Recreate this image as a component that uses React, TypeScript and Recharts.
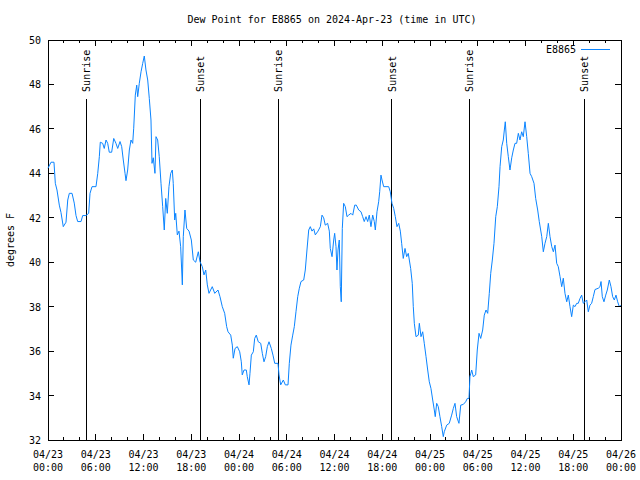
import { LineChart, Line, XAxis, YAxis, ReferenceLine, ReferenceArea } from 'recharts';

// hours since 04/23 00:00 UTC
const hours = [
  0.0, 0.38, 0.75, 0.92, 1.13, 1.42, 1.63, 1.92, 2.26, 2.48, 2.68, 3.02, 3.30, 3.52, 3.73, 4.15, 4.36, 4.77,
  5.11, 5.28, 5.53, 6.03, 6.25, 6.45, 6.57, 6.87, 7.07, 7.29, 7.50, 7.70, 8.00, 8.26, 8.54, 8.76, 9.05, 9.26,
  9.46, 9.68, 9.80, 10.01, 10.22, 10.43, 10.64, 10.77, 10.97, 11.15, 11.27, 11.47, 11.69, 11.90, 12.10, 12.31,
  12.53, 12.73, 12.94, 13.07, 13.23, 13.44, 13.57, 13.78, 13.98, 14.20, 14.41, 14.61, 14.79, 14.99, 15.20,
  15.42, 15.62, 15.74, 15.92, 16.05, 16.25, 16.46, 16.67, 16.80, 16.88, 17.00, 17.21, 17.43, 17.72, 18.01,
  18.26, 18.56, 18.89, 19.10, 19.39, 19.60, 19.82, 20.02, 20.23, 20.64, 20.95, 21.36, 21.61, 21.90, 22.20,
  22.45, 22.62, 22.96, 23.16, 23.28, 23.50, 23.79, 24.09, 24.29, 24.41, 24.63, 24.92, 25.04, 25.26, 25.38,
  25.55, 25.80, 25.97, 26.17, 26.42, 26.73, 26.93, 27.14, 27.35, 27.56, 27.77, 28.06, 28.27, 28.49, 28.90,
  29.03, 29.24, 29.57, 29.82, 30.16, 30.32, 30.53, 30.75, 30.95, 31.16, 31.38, 31.58, 31.79, 32.13, 32.33,
  32.54, 32.76, 32.96, 33.17, 33.39, 33.59, 33.93, 34.22, 34.43, 34.64, 34.84, 35.14, 35.35, 35.47, 35.69,
  35.90, 36.02, 36.19, 36.31, 36.44, 36.60, 36.73, 36.85, 36.98, 37.15, 37.36, 37.57, 37.78, 38.07, 38.29,
  38.54, 38.74, 39.04, 39.33, 39.54, 39.74, 39.96, 40.17, 40.37, 40.58, 40.80, 41.00, 41.13, 41.34, 41.55,
  41.68, 41.84, 41.97, 42.18, 42.81, 43.01, 43.22, 43.44, 43.64, 43.85, 44.07, 44.27, 44.44, 44.64, 44.86,
  45.07, 45.27, 45.57, 45.77, 45.90, 46.03, 46.24, 46.53, 46.66, 46.87, 47.08, 47.28, 47.50, 47.71, 47.91,
  48.12, 48.34, 48.54, 48.66, 48.84, 49.04, 49.25, 49.47, 49.67, 49.79, 50.10, 50.42, 50.72, 50.93, 51.14,
  51.35, 51.64, 51.86, 52.18, 52.48, 52.69, 52.90, 53.02, 53.24, 53.44, 53.74, 53.94, 54.16, 54.37, 54.62,
  54.82, 55.04, 55.25, 55.45, 55.63, 55.83, 56.04, 56.26, 56.46, 56.67, 56.80, 57.01, 57.21, 57.34, 57.46,
  57.64, 57.84, 58.05, 58.27, 58.47, 58.68, 58.89, 59.10, 59.31, 59.52, 59.72, 59.94, 60.15, 60.35, 60.57,
  60.78, 61.07, 61.28, 61.53, 61.73, 62.04, 62.24, 62.45, 62.67, 62.87, 63.08, 63.30, 63.50, 63.71, 63.92,
  64.12, 64.34, 64.55, 64.75, 64.96, 65.18, 65.38, 65.59, 65.80, 66.01, 66.22, 66.43, 66.63, 66.85, 67.06,
  67.26, 67.47, 67.69, 67.89, 68.10, 68.31, 68.52, 68.73, 69.15, 69.36, 69.49, 69.65, 69.86, 70.08, 70.28,
  70.53, 70.74, 70.95, 71.16, 71.37, 71.58, 71.79, 71.96,
];

const dewF = [
  44.23, 44.5, 44.5, 43.55, 43.25, 42.57, 42.24, 41.6, 41.8, 42.8, 43.1, 43.1, 42.66, 42.1, 41.83, 41.83, 42.1, 42.1,
  42.2, 43.1, 43.4, 43.4, 44.0, 44.75, 45.4, 45.35, 45.12, 45.5, 45.35, 44.95, 44.95, 45.57, 45.35, 45.12, 45.43, 45.2,
  44.6, 44.0, 43.67, 44.15, 45.05, 45.5, 45.35, 46.03, 47.52, 47.97, 47.45, 48.05, 48.57, 48.95, 49.28, 48.65,
  48.2, 47.37, 46.4, 44.45, 44.7, 44.0, 45.65, 45.5, 44.75, 43.55, 42.5, 41.45, 42.87, 42.2, 43.4,
  44.0, 44.15, 43.55, 41.9, 42.2, 41.23, 41.4, 40.7, 39.65, 38.98, 41.15, 42.35, 41.52, 41.4, 41.0,
  40.1, 40.0, 40.47, 40.02, 39.8, 39.43, 39.65, 38.98, 38.6, 38.9, 38.6, 38.75, 38.45, 38.0, 37.7,
  37.1, 36.87, 36.72, 36.27, 35.68, 36.12, 36.2, 35.97, 35.52, 34.93, 35.15, 35.15, 34.85, 34.48, 35.0,
  35.82, 35.97, 36.57, 36.72, 36.42, 36.35, 35.9, 35.52, 35.75, 36.2, 36.42, 36.12, 35.82, 35.45, 35.45,
  34.93, 34.48, 34.7, 34.48, 34.48, 35.45, 36.27, 36.72, 37.1, 37.77, 38.45, 38.83, 39.13, 39.2, 39.65,
  40.55, 41.45, 41.6, 41.4, 41.5, 41.23, 41.4, 41.6, 42.12, 42.0, 41.67, 41.75, 41.4, 40.62, 40.25,
  41.0, 41.3, 40.7, 39.65, 40.55, 41.0, 38.9, 38.22, 41.52, 42.65, 42.5, 42.05, 42.12, 42.2, 42.12,
  42.57, 42.57, 42.35, 42.27, 42.05, 41.83, 42.05, 41.83, 42.12, 41.6, 42.12, 41.83, 41.45, 42.27, 42.72,
  43.17, 43.92, 43.7, 43.4, 43.4, 43.17, 42.65, 42.42, 42.05, 41.6, 41.75, 41.4, 40.85, 40.17, 40.62,
  40.25, 40.4, 39.72, 39.05, 38.0, 37.25, 36.65, 36.72, 37.25, 36.65, 36.87, 36.35, 35.75, 35.15, 34.62,
  34.32, 33.8, 33.35, 33.05, 33.65, 33.5, 33.05, 32.6, 32.15, 32.37, 32.67, 32.75, 33.12, 33.42, 33.65,
  33.05, 32.75, 33.57, 33.6, 33.72, 33.87, 33.87, 34.85, 35.15, 34.85, 34.93, 36.05, 36.8, 36.57, 36.95,
  37.62, 37.85, 37.7, 38.6, 39.5, 40.1, 40.85, 42.05, 42.5, 43.4, 44.3, 45.2, 45.5, 45.95, 46.32,
  45.35, 44.75, 44.15, 44.7, 45.05, 45.35, 45.35, 45.8, 45.5, 45.87, 45.65, 46.32, 45.65, 44.9, 44.0,
  43.85, 43.55, 42.87, 42.35, 41.83, 41.15, 40.47, 40.85, 41.15, 41.75, 41.15, 40.7, 40.47, 40.77, 39.95,
  39.8, 39.35, 38.9, 39.28, 38.6, 38.22, 38.52, 38.0, 37.55, 38.07, 38.0, 38.15, 38.15, 38.37, 38.52,
  38.15, 38.22, 38.3, 37.77, 38.07, 38.15, 38.45, 38.77, 38.83, 38.9, 39.13, 38.45, 38.22, 38.52, 38.75,
  39.2, 38.9, 38.45, 38.3, 38.52, 38.22, 38.0, 38.07,
];

const sunTimes = [4.81, 19.10, 28.94, 43.22, 52.94, 67.39];
const sunLabels = ['Sunrise', 'Sunset', 'Sunrise', 'Sunset', 'Sunrise', 'Sunset'];

const xTicks = Array.from({ length: 37 }, (_, i) => i * 2);
const xDates = ['04/23', '04/23', '04/23', '04/23', '04/24', '04/24', '04/24', '04/24', '04/25', '04/25', '04/25', '04/25', '04/26'];
const xTimes = ['00:00', '06:00', '12:00', '18:00'];
const yTicks = [32, 34, 36, 38, 40, 42, 44, 46, 48, 50];

const W = 640, H = 480;
const L = 48, R = 621, T = 40, B = 440;
const FONT = '"DejaVu Sans Mono", monospace';
const BLUE = '#0a84ff';

const data = hours.map((t, i) => ({ t, v: dewF[i] }));

function XTick(props: any) {
  const { x, payload } = props;
  const h = payload.value as number;
  const major = h % 6 === 0;
  const len = major ? 6 : 3;
  return (
    <g shapeRendering="crispEdges">
      <line x1={x} x2={x} y1={B} y2={B - len} stroke="#000" />
      <line x1={x} x2={x} y1={T} y2={T + len} stroke="#000" />
      {major && (
        <text x={x} y={B + 18} textAnchor="middle" fontFamily={FONT} fontSize={10} fill="#000">
          <tspan x={x}>{xDates[h / 6]}</tspan>
          <tspan x={x} dy={13}>{xTimes[(h / 6) % 4]}</tspan>
        </text>
      )}
    </g>
  );
}

function YTick(props: any) {
  const { y, payload } = props;
  return (
    <g shapeRendering="crispEdges">
      <line x1={L} x2={L + 6} y1={y} y2={y} stroke="#000" />
      <line x1={R} x2={R - 6} y1={y} y2={y} stroke="#000" />
      <text x={L - 7} y={y + 4} textAnchor="end" fontFamily={FONT} fontSize={10} fill="#000">{payload.value}</text>
    </g>
  );
}

function sunLabel(text: string) {
  return (props: any) => {
    const vb = props.viewBox || {};
    const x = vb.x + 4;
    const y = vb.y - 7;
    return (
      <text x={x} y={y} transform={`rotate(-90 ${x} ${y})`} fontFamily={FONT} fontSize={10} fill="#000">{text}</text>
    );
  };
}

export default function App() {
  return (
    <div style={{ position: 'absolute', left: 0, top: 0, width: W, height: H, background: '#fff' }}>
      <LineChart width={W} height={H} data={data} margin={{ top: T, right: W - R, left: 0, bottom: 0 }}>
        <XAxis dataKey="t" type="number" domain={[0, 72]} ticks={xTicks} interval={0} height={H - B}
          axisLine={false} tickLine={false} tick={(p: any) => <XTick {...p} />} />
        <YAxis type="number" domain={[32, 50]} ticks={yTicks} interval={0} width={L}
          axisLine={false} tickLine={false} tick={(p: any) => <YTick {...p} />} />
        <ReferenceArea x1={0} x2={72} y1={32} y2={50} fill="none" stroke="#000" strokeWidth={1} shapeRendering="crispEdges" />
        {sunTimes.map((s, i) => (
          <ReferenceLine key={i} segment={[{ x: s, y: 47.35 }, { x: s, y: 32 }]} stroke="#000" strokeWidth={1}
            shapeRendering="crispEdges" label={sunLabel(sunLabels[i])} />
        ))}
        <Line type="linear" dataKey="v" stroke={BLUE} strokeWidth={1} dot={false} isAnimationActive={false} />
        <text x={332} y={23} textAnchor="middle" fontFamily={FONT} fontSize={10} fill="#000">
          Dew Point for E8865 on 2024-Apr-23 (time in UTC)
        </text>
        <text x={14} y={240} textAnchor="middle" transform="rotate(-90 14 240)" fontFamily={FONT} fontSize={10} fill="#000">
          degrees F
        </text>
        <text x={576} y={53} textAnchor="end" fontFamily={FONT} fontSize={10} fill="#000">E8865</text>
        <line x1={581} x2={610} y1={49} y2={49} stroke={BLUE} strokeWidth={1} shapeRendering="crispEdges" />
      </LineChart>
    </div>
  );
}
